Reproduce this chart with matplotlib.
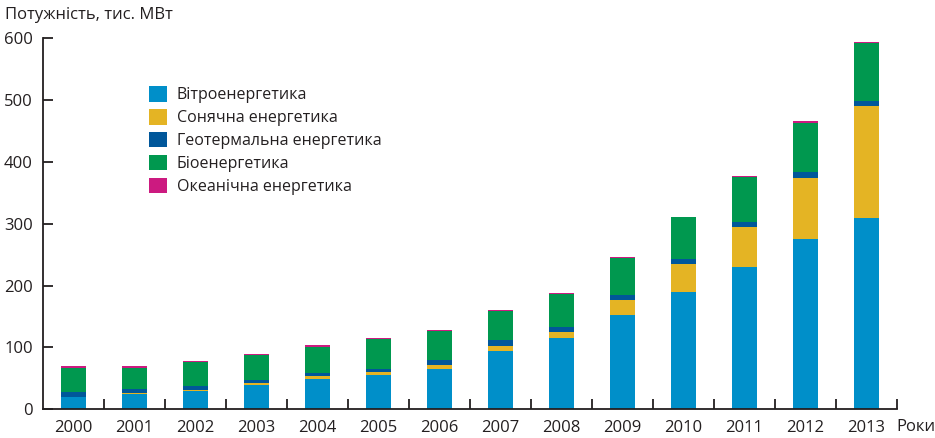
import matplotlib.pyplot as plt
from matplotlib.patches import Patch
import numpy as np

plt.rcParams['font.family'] = ['Open Sans', 'DejaVu Sans']

years = ['2000', '2001', '2002', '2003', '2004', '2005', '2006',
         '2007', '2008', '2009', '2010', '2011', '2012', '2013']

# потужність, тис. МВт
wind = [20, 25, 29.5, 39, 49, 55.5, 65, 94, 115, 152.5, 190, 230, 275.5, 309.5]
solar = [0.5, 1.6, 1.6, 3.2, 4.9, 4.9, 6.5, 8, 9.7, 24, 45, 64.7, 98.7, 181]
geo = [8, 6, 6.5, 4.9, 4.9, 4.9, 8, 9.7, 8, 8, 8, 8, 9.7, 8]
bio = [38, 34.5, 39.3, 40.4, 42, 48.5, 47, 47, 53.4, 60.4, 67, 72.8, 78.7, 93.8]
ocean = [2.7, 2.7, 1.1, 2.1, 3.2, 1.6, 1.6, 1.6, 1.6, 1.6, 1.1, 1.6, 3.8, 1.6]

labels = ['Вітроенергетика', 'Сонячна енергетика', 'Геотермальна енергетика',
          'Біоенергетика', 'Океанічна енергетика']
colors = ['#008fc9', '#e4b424', '#00579a', '#00984f', '#cc1a80']

txt = '#231f20'
fs = 12

fig = plt.figure(figsize=(9.35, 4.38), dpi=100)
ax = fig.add_axes([0.0455, 0.0655, 0.9139, 0.8477])

x = np.arange(len(years))
bottom = np.zeros(len(years))
for vals, c in zip([wind, solar, geo, bio, ocean], colors):
    ax.bar(x, vals, width=0.41, bottom=bottom, color=c, linewidth=0)
    bottom += np.array(vals)

ax.set_xlim(-0.5, 13.5)
ax.set_ylim(0, 600)

for s in ['top', 'right']:
    ax.spines[s].set_visible(False)
for s in ['left', 'bottom']:
    ax.spines[s].set_color(txt)
    ax.spines[s].set_linewidth(1.3)

ax.set_yticks([0, 100, 200, 300, 400, 500, 600])
ax.tick_params(axis='y', direction='in', length=7.5, width=1.3, color=txt,
               pad=7, labelsize=fs, labelcolor=txt)

# мітки між стовпцями, підписи років під центрами
ax.set_xticks(np.arange(0.5, 14, 1))
ax.set_xticklabels([])
ax.tick_params(axis='x', which='major', direction='in', length=7, width=1.3, color=txt)
ax.set_xticks(x, minor=True)
ax.set_xticklabels(years, minor=True)
ax.tick_params(axis='x', which='minor', length=0, pad=8, labelsize=fs, labelcolor=txt)

fig.text(5 / 935, 1 - 15 / 438, 'Потужність, тис. МВт', fontsize=fs, color=txt,
         ha='left', va='center')
fig.text(896 / 935, 1 - 427 / 438, 'Роки', fontsize=fs, color=txt,
         ha='left', va='center')

handles = [Patch(facecolor=c, edgecolor='none') for c in colors]
fig.legend(handles, labels, loc='upper left', bbox_to_anchor=(143 / 935, 1 - 80 / 438),
           frameon=False, fontsize=11.5, handlelength=1.1, handleheight=1.1,
           handletextpad=0.6, labelspacing=0.36, labelcolor=txt, borderaxespad=0)

fig.savefig('out.png', dpi=100)
